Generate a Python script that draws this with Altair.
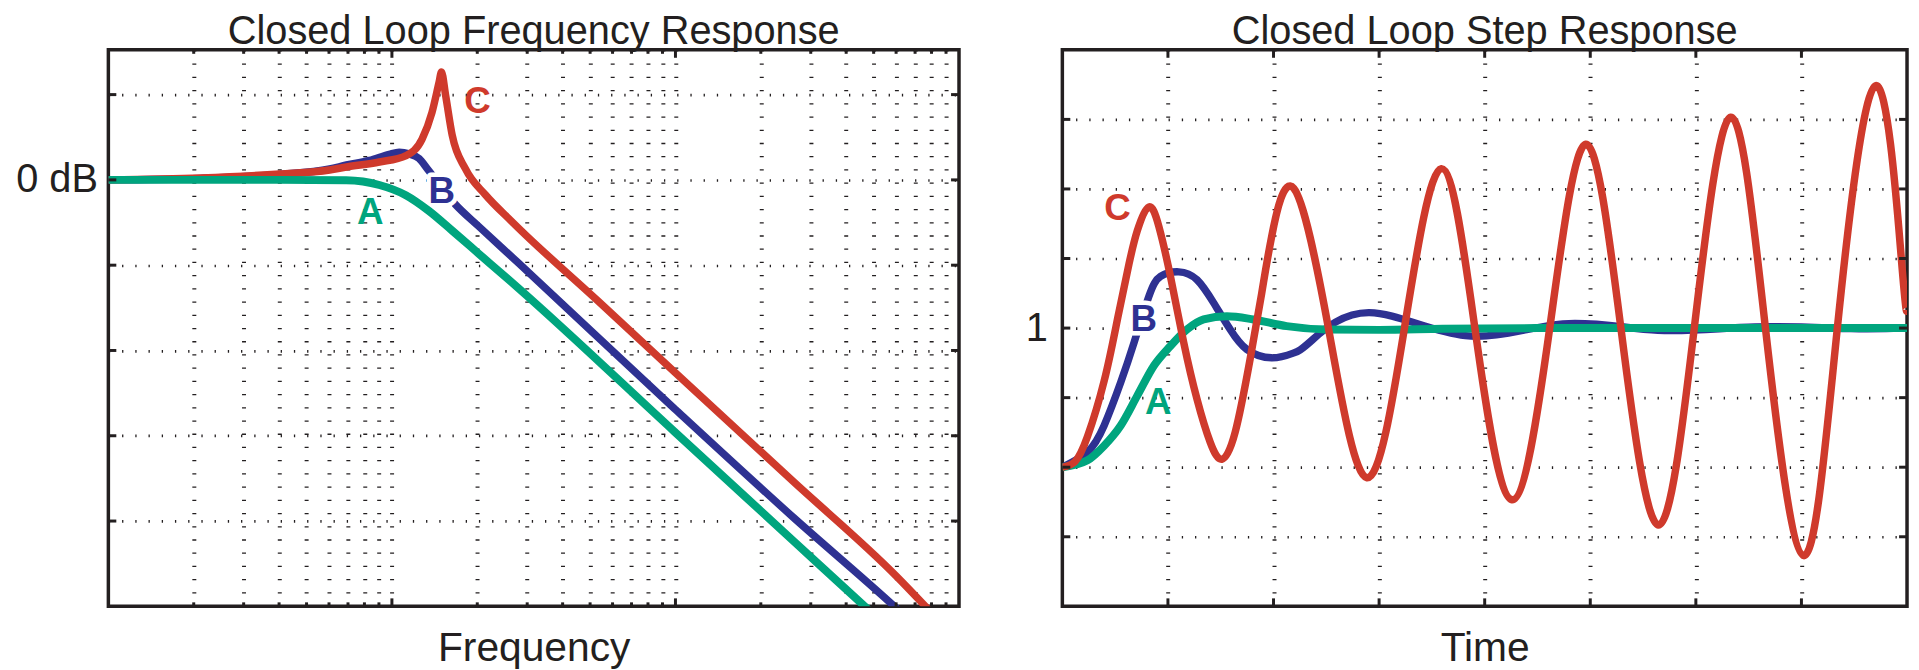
import altair as alt
import pandas as pd

# ---------------- Closed loop frequency response ----------------
# x: frequency (log axis, three decades), y: magnitude in dB
freq_c = [0.1, 0.211, 0.4025, 0.603, 0.6915, 0.9027, 1.1225, 1.277, 1.3845, 1.4655, 1.4953,
          1.5467, 1.6312, 1.8177, 2.1363, 2.648, 2.795, 5.333, 9.904, 26.10, 60.09, 79.7]
mag_c = [0, 0.47, 1.40, 2.33, 3.02, 4.19, 5.70, 9.53, 15.8, 22.8, 25.3,
         19.8, 10.5, 2.56, -3.49, -9.77, -11.3, -28.4, -45.0, -70.8, -92.9, -101.4]

freq_b = [0.1, 0.211, 0.4025, 0.603, 0.6915, 0.8325, 0.978, 1.0607, 1.150, 1.2467, 1.3334,
          1.6767, 2.0237, 2.795, 9.904, 26.10, 59.13, 62.57]
mag_b = [0, 0.35, 1.28, 2.56, 3.5, 4.58, 6.0, 6.5, 6.1, 5.0, 2.6,
         -5.8, -10.9, -19.5, -53.6, -79.2, -100, -101.5]

freq_a = [0.1, 0.4025, 0.6898, 0.9027, 1.1197, 1.3513, 1.6312, 2.0237, 2.795, 9.904, 26.10, 47.17, 50.3]
mag_a = [0, 0, -0.1, -1.2, -3.6, -7.3, -11.9, -17.3, -25.4, -59.0, -84.7, -100.4, -102.1]

freq_grid = [0.2, 0.3, 0.4, 0.5, 0.6, 0.7, 0.8, 0.9, 1,
             2, 3, 4, 5, 6, 7, 8, 9, 10,
             20, 30, 40, 50, 60, 70, 80, 90]
freq_major = [1, 10]
freq_minor = [0.2, 0.3, 0.4, 0.5, 0.6, 0.7, 0.8, 0.9,
              2, 3, 4, 5, 6, 7, 8, 9,
              20, 30, 40, 50, 60, 70, 80, 90]
mag_grid = [-80, -60, -40, -20, 0, 20]

freq_lab_text = ["A", "B", "C"]
freq_lab_f = [0.8385, 1.499, 2.004]
freq_lab_db = [-6.9, -2.0, 19.2]

# ---------------- Closed loop step response ----------------
t_c = [0, 0.12, 0.238, 0.396, 0.521, 0.631, 0.71, 0.818, 0.914, 1.024, 1.15, 1.275, 1.40, 1.511,
       1.637, 1.778, 1.888, 1.982, 2.192, 2.52, 2.884, 3.24, 3.589, 3.907, 4.258, 4.616, 4.957,
       5.29, 5.644, 5.985, 6.33, 6.659, 7.022, 7.34, 7.704, 7.946, 8.0]
y_c = [0, 0.04, 0.22, 0.62, 1.06, 1.46, 1.70, 1.87, 1.73, 1.37, 0.895, 0.49, 0.18, 0.057,
       0.252, 0.776, 1.25, 1.657, 2.004, 1.0, -0.076, 1.0, 2.146, 1.0, -0.234, 1.0, 2.321,
       1.0, -0.416, 1.0, 2.516, 1.0, -0.636, 1.0, 2.743, 1.5, 1.13]

t_b = [0, 0.238, 0.396, 0.553, 0.679, 0.82, 0.93, 1.103, 1.275, 1.433, 1.59, 1.747, 1.982,
       2.187, 2.36, 2.908, 3.817, 4.74, 5.64, 6.56, 7.47, 8.0]
y_b = [0, 0.109, 0.30, 0.61, 0.895, 1.229, 1.371, 1.404, 1.347, 1.181, 0.99, 0.847, 0.786,
       0.82, 0.91, 1.111, 0.946, 1.03, 0.985, 1.008, 0.996, 1.002]

t_a = [0, 0.238, 0.396, 0.553, 0.71, 0.867, 1.024, 1.181, 1.338, 1.558, 1.81, 2.124, 2.5,
       3.0, 3.6, 4.5, 5.5, 8.0]
y_a = [0, 0.05, 0.155, 0.30, 0.514, 0.729, 0.871, 0.99, 1.062, 1.085, 1.062, 1.014, 0.99,
       0.987, 0.995, 1.0, 1.0, 1.0]

time_grid = [1, 2, 3, 4, 5, 6, 7]
step_grid = [-0.5, 0, 0.5, 1, 1.5, 2, 2.5]

step_lab_text = ["A", "B", "C"]
step_lab_t = [0.909, 0.772, 0.522]
step_lab_y = [0.491, 1.084, 1.887]

# ---------------- styling ----------------
FONT = "Liberation Sans, Arial, Helvetica, sans-serif"
INK = "#231f20"
RED = "#cf3a2c"
BLUE = "#2e3192"
GREEN = "#00a57e"
W1, W2, H = 856, 850, 560
TICK = 8
LW = {"A": 8, "B": 7.5, "C": 7.5}
TITLE_SIZE = 40
AXIS_TITLE_SIZE = 41


def xgrid_axis(values, title):
    return alt.Axis(values=values, grid=True, gridDash=[1.3, 12], gridWidth=4, gridColor=INK,
                    gridOpacity=1, labels=False, ticks=False, domain=False, title=title,
                    titleFont=FONT, titleFontSize=AXIS_TITLE_SIZE, titleFontWeight="normal",
                    titleColor=INK, titleBaseline="alphabetic", titlePadding=55,
                    minExtent=0, maxExtent=0)


def ygrid_axis(values, expr, pad, extent):
    return alt.Axis(values=values, grid=True, gridDash=[1.3, 12], gridWidth=2.7, gridColor=INK,
                    gridOpacity=1, labelExpr=expr, labelFont=FONT, labelFontSize=40,
                    labelColor=INK, labelPadding=pad, labelOverlap=False, labelBaseline="middle",
                    ticks=False, domain=False, title="", minExtent=extent, maxExtent=extent)


def panel(series, xs, ys, xaxis, yaxis, xgrid_major, xgrid_minor, ygrid, labels, halo_letter,
          width, title, layer_order):
    def X(field):
        return alt.X(field, type="quantitative", scale=xs, axis=xaxis)

    def Y(field):
        return alt.Y(field, type="quantitative", scale=ys, axis=yaxis)

    layers = []
    lab_df = pd.DataFrame({"x": labels[1], "y": labels[2], "t": labels[0]})
    halo_df = lab_df[lab_df.t == halo_letter]
    halo = alt.Chart(halo_df).mark_text(font=FONT, fontSize=37, fontWeight="bold", dy=4,
                                        fill="white", stroke="white", strokeWidth=9,
                                        strokeJoin="round", baseline="middle", align="center").encode(
        x=X("x"), y=Y("y"), text="t:N")

    for key in layer_order:
        if key == "halo":
            layers.append(halo)
            continue
        xv, yv, color, interp = series[key]
        df = pd.DataFrame({"x": xv, "y": yv})
        layers.append(alt.Chart(df).mark_line(color=color, strokeWidth=LW[key], interpolate=interp,
                                              clip=True, strokeCap="butt").encode(
            x=X("x"), y=Y("y")))

    # inward tick marks on all four sides
    ydf = pd.DataFrame({"y": ygrid})
    for x0, x1 in [(0, TICK), (width - TICK, width)]:
        layers.append(alt.Chart(ydf).mark_rule(color=INK, strokeWidth=3).encode(
            y=Y("y"), x=alt.value(x0), x2=alt.value(x1)))
    for vals, ln in [(xgrid_major, TICK), (xgrid_minor, TICK / 2)]:
        if not vals:
            continue
        xdf = pd.DataFrame({"x": vals})
        for y0, y1 in [(0, ln), (H - ln, H)]:
            layers.append(alt.Chart(xdf).mark_rule(color=INK, strokeWidth=3).encode(
                x=X("x"), y=alt.value(y0), y2=alt.value(y1)))

    layers.append(alt.Chart(lab_df).mark_text(font=FONT, fontSize=37, fontWeight="bold", dy=4,
                                              baseline="middle", align="center").encode(
        x=X("x"), y=Y("y"), text="t:N",
        color=alt.Color("t:N", scale=alt.Scale(domain=["A", "B", "C"], range=[GREEN, BLUE, RED]),
                        legend=None)))

    return alt.layer(*layers).properties(
        width=width, height=H,
        title=alt.Title(title, font=FONT, fontSize=TITLE_SIZE, fontWeight="normal", color=INK,
                        anchor="middle", baseline="alphabetic", offset=-36))


xs_f = alt.Scale(type="log", domain=[0.1, 100])
ys_f = alt.Scale(domain=[-100, 30.5])
xs_t = alt.Scale(domain=[0, 8])
ys_t = alt.Scale(domain=[-1, 3])

left = panel(
    {"A": (freq_a, mag_a, GREEN, "monotone"),
     "B": (freq_b, mag_b, BLUE, "monotone"),
     "C": (freq_c, mag_c, RED, "monotone")},
    xs_f, ys_f,
    xgrid_axis(freq_grid, "Frequency"),
    ygrid_axis(mag_grid, "datum.value == 0 ? '0 dB' : ''", 11, 99),
    freq_major, freq_minor, mag_grid,
    (freq_lab_text, freq_lab_f, freq_lab_db), "B", W1,
    "Closed Loop Frequency Response", ["B", "halo", "C", "A"])

right = panel(
    {"A": (t_a, y_a, GREEN, "monotone"),
     "B": (t_b, y_b, BLUE, "natural"),
     "C": (t_c, y_c, RED, "natural")},
    xs_t, ys_t,
    xgrid_axis(time_grid, "Time"),
    ygrid_axis(step_grid, "datum.value == 1 ? '1' : ''", 15, 45),
    time_grid, [], step_grid,
    (step_lab_text, step_lab_t, step_lab_y), "B", W2,
    "Closed Loop Step Response", ["B", "halo", "A", "C"])

chart = alt.hconcat(left, right, spacing=53).properties(padding=0).configure_view(
    stroke=INK, strokeWidth=3.5)

chart.save("out.html", embed_options={"renderer": "svg", "actions": False})
